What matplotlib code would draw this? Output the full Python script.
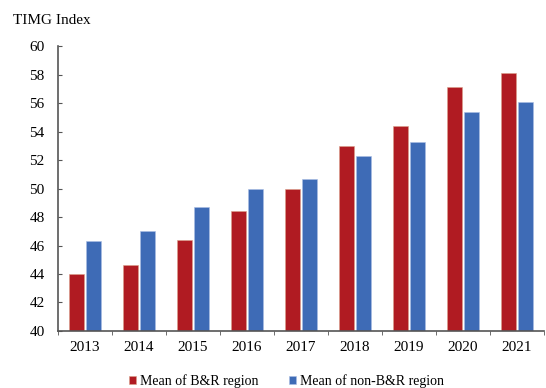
import matplotlib.pyplot as plt
import numpy as np

# TIMG index by year, B&R vs non-B&R regions
years = ["2013", "2014", "2015", "2016", "2017", "2018", "2019", "2020", "2021"]
br_mean = [44.0, 44.6, 46.4, 48.4, 50.0, 53.0, 54.4, 57.1, 58.1]
non_br_mean = [46.3, 47.0, 48.7, 50.0, 50.7, 52.3, 53.3, 55.4, 56.1]

plt.rcParams['font.family'] = ['Liberation Serif', 'DejaVu Serif']

red = '#B01B22'
blue = '#3E6BB6'
axis_col = '#555555'

fig = plt.figure(figsize=(5.46, 3.88), dpi=100)
ax = fig.add_axes([0.106, 0.147, 0.89, 0.734])

x = np.arange(len(years))
w = 0.28
ax.bar(x - 0.155, br_mean, width=w, color=red, edgecolor='#d9a08a', linewidth=0.4,
       label='Mean of B&R region')
ax.bar(x + 0.155, non_br_mean, width=w, color=blue, edgecolor='#a9bde3', linewidth=0.4,
       label='Mean of non-B&R region')

ax.set_ylim(40, 60)
ax.set_xlim(-0.5, len(years) - 0.5)
ax.set_yticks(range(40, 61, 2))
ax.set_xticks(x)
ax.set_xticklabels(years)
ax.set_xticks(np.arange(-0.5, len(years), 1.0), minor=True)

for s in ['top', 'right']:
    ax.spines[s].set_visible(False)
for s in ['left', 'bottom']:
    ax.spines[s].set_color(axis_col)
    ax.spines[s].set_linewidth(1.2)

ax.tick_params(axis='y', direction='in', length=3, color=axis_col, labelsize=11, pad=9.5)
ax.tick_params(axis='x', which='major', length=0, labelsize=11, pad=7)
ax.tick_params(axis='x', which='minor', direction='out', length=3, color=axis_col)

fig.text(0.024, 0.948, 'TIMG Index', fontsize=11, ha='left', va='center')

ax.legend(loc='center', bbox_to_anchor=(0.47, -0.175), ncol=2, frameon=False,
          fontsize=10, handlelength=0.55, handleheight=0.55, handletextpad=0.25,
          columnspacing=2.2, borderaxespad=0)

plt.savefig('out.png', dpi=100)
